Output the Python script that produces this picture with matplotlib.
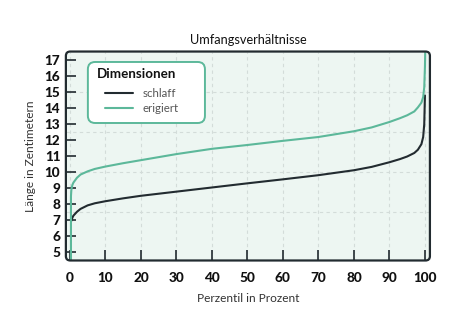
import matplotlib.pyplot as plt
from matplotlib.patches import FancyBboxPatch

plt.rcParams['font.family'] = ['Lato', 'DejaVu Sans']

# Perzentil-Kurven
perz_schlaff = [0.4, 0.7, 1, 2, 3, 5, 7, 10, 15, 20, 30, 40, 50, 60, 70, 80, 85, 90, 93, 95, 97, 98, 99, 99.5, 99.8, 100]
len_schlaff = [6.95, 7.15, 7.28, 7.52, 7.7, 7.92, 8.05, 8.18, 8.36, 8.52, 8.78, 9.04, 9.3, 9.55, 9.81, 10.12, 10.33, 10.62, 10.82, 10.98, 11.2, 11.4, 11.75, 12.2, 13.0, 14.8]

perz_erigiert = [0.3, 0.3, 0.4, 0.5, 0.7, 1, 2, 3, 5, 7, 10, 15, 20, 30, 40, 50, 60, 70, 80, 85, 90, 93, 95, 97, 98, 99, 99.5, 99.8, 100, 100.1]
len_erigiert = [4.3, 8.5, 8.85, 9.0, 9.2, 9.35, 9.65, 9.85, 10.05, 10.2, 10.35, 10.56, 10.75, 11.13, 11.46, 11.7, 11.96, 12.2, 12.56, 12.8, 13.14, 13.38, 13.56, 13.8, 14.05, 14.35, 14.7, 15.3, 16.6, 17.8]

xticks = [0, 10, 20, 30, 40, 50, 60, 70, 80, 90, 100]
yticks = [5, 6, 7, 8, 9, 10, 11, 12, 13, 14, 15, 16, 17]
ygrid = [7.5, 10, 12.5, 15]

dunkel = '#222b30'
gruen = '#5cb89a'

fig = plt.figure(figsize=(4.74, 3.27), dpi=100)
ax = fig.add_axes([0.139, 0.2034, 0.768, 0.639])
ax.set_facecolor('#edf6f2')

for x in xticks:
    ax.axvline(x, color='#d3dcd9', lw=0.8, ls=(0, (3, 3)), zorder=1)
for y in ygrid:
    ax.axhline(y, color='#d3dcd9', lw=0.8, ls=(0, (3, 3)), zorder=1)

ax.plot(perz_schlaff, len_schlaff, color=dunkel, lw=1.5, label='schlaff', zorder=3, solid_capstyle='round')
ax.plot(perz_erigiert, len_erigiert, color=gruen, lw=1.5, label='erigiert', zorder=4, solid_capstyle='round')

ax.set_xlim(-1.13, 101.4)
ax.set_ylim(4.47, 17.55)
ax.set_xticks(xticks)
ax.set_yticks(yticks)
ax.tick_params(axis='both', direction='in', length=7, width=1.2, color=dunkel,
               labelsize=9.8, labelcolor='#111111')
ax.tick_params(axis='x', pad=8.5)
ax.tick_params(axis='y', pad=4)
for lab in ax.get_xticklabels() + ax.get_yticklabels():
    lab.set_fontweight('black')

for s in ax.spines.values():
    s.set_visible(False)
rahmen = FancyBboxPatch((0, 0), 1, 1, boxstyle='round,pad=0,rounding_size=0.012',
                        mutation_aspect=364 / 209, transform=ax.transAxes,
                        facecolor='none', edgecolor=dunkel, lw=1.6, clip_on=False, zorder=5)
ax.add_patch(rahmen)

ax.set_title('Umfangsverhältnisse', fontsize=9.2, color='#111111', pad=5.5)
ax.set_xlabel('Perzentil in Prozent', fontsize=8.6, color='#333333', labelpad=6)
ax.set_ylabel('Länge in Zentimetern', fontsize=8.6, color='#333333', labelpad=6)

# Legendenkasten
kasten = FancyBboxPatch((0.0604, 0.658), 0.3216, 0.292, boxstyle='round,pad=0,rounding_size=0.02',
                        mutation_aspect=364 / 209, transform=ax.transAxes,
                        facecolor='white', edgecolor=gruen, lw=1.4, zorder=6)
ax.add_patch(kasten)
ax.text(0.084, 0.892, 'Dimensionen', transform=ax.transAxes, fontsize=9.6,
        fontweight='bold', color='#111111', va='center', ha='left', zorder=7)

leg = ax.legend(loc='upper left', bbox_to_anchor=(0.107, 0.825), borderaxespad=0,
                fontsize=8.3, handlelength=2.45, handletextpad=0.85, borderpad=0,
                labelspacing=0.3, frameon=False)
for t in leg.get_texts():
    t.set_color('#555555')
leg.set_zorder(8)

fig.savefig('out.png', dpi=100)
